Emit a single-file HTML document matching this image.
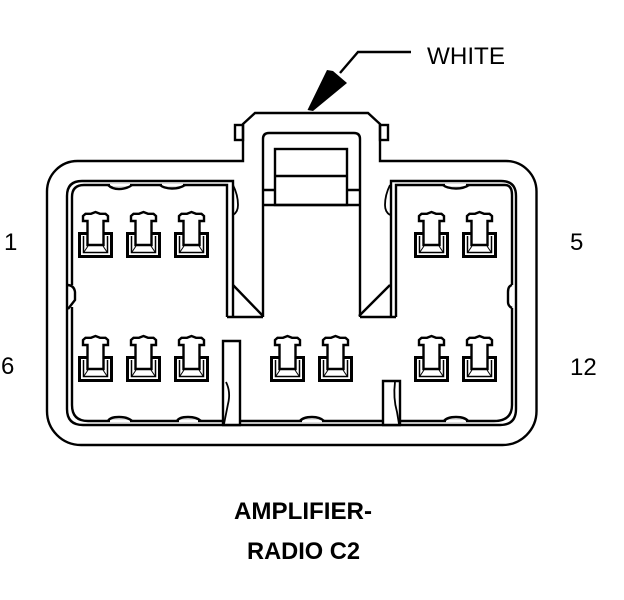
<!DOCTYPE html>
<html><head><meta charset="utf-8"><style>
html,body{margin:0;padding:0;background:#fff}
svg{display:block}
text{font-family:"Liberation Sans",sans-serif;fill:#000}
</style></head><body>
<svg width="624" height="600" viewBox="0 0 624 600" xmlns="http://www.w3.org/2000/svg">
<defs>
<g id="t" fill="none" stroke="#000">
<rect x="79.500" y="233.500" width="32" height="23" stroke-width="3"/>
<path d="M83.500 236V252.500H107.500V236" stroke-width="1.500"/>
<path d="M88 246 84 252M103 246 107 252" stroke-width="1"/>
<path d="M87.500 245H103.500V221H108V216L105.500 213.800H100L95.500 212 91 213.800H85.500L83 216V221H87.500V245Z" fill="#fff" stroke-width="2.400"/>
</g>
</defs>
<g fill="none" stroke="#000" stroke-width="2.400">
<!-- outer shell -->
<path d="M243 161V124L255 113H368L380 124V161H506A30.500 30.500 0 0 1 536.500 191.500V411A34 34 0 0 1 502.500 445H81A34 34 0 0 1 47 411V191.500A30.500 30.500 0 0 1 77.500 161H243Z"/>
<rect x="235" y="125" width="8" height="15"/>
<rect x="380" y="125" width="8" height="15"/>
<!-- tower inner -->
<path d="M263 317V139Q263 133 269 133H354Q360 133 360 139V317"/>
<rect x="275" y="149" width="72" height="56"/>
<path d="M275 176H347M264 205H359M264 190H275M347 190H359"/>
<!-- left cavity -->
<path d="M227 317H263M233 285 263 316"/>
<path d="M227 317V185H84Q72 185 72 197V285M72 307V405Q72 421 88 421H223"/>
<path d="M233 317V181H82Q67 181 67 196V409Q67 425 83 425H500Q516 425 516 409V196Q516 181 501 181H391V317"/>
<path d="M67 285Q74 285 75 292V300L68 309"/>
<!-- right cavity -->
<path d="M360 317H396M390 285 359 316"/>
<path d="M396 317V185H505Q512 185 512 195V285M512 308V405Q512 421 494 421H400"/>
<path d="M512 285Q508 286 508 292V302Q508 306 512 308"/>
<path d="M240 421H383"/>
</g>
<!-- gaps for bumps -->
<g stroke="#fff" stroke-width="2.600" fill="none">
<path d="M110 185H130M162 185H183M445 185H466M110 421H130M179 421H198M302 421H322M446 421H466"/>
</g>
<g fill="none" stroke="#000" stroke-width="2.400">
<!-- bumps top -->
<path d="M108 185Q112 189 119 189Q127 189 132 185M160 185Q164 188.500 172 188.500Q180 188.500 185 185M443 185Q447 188.500 456 188.500Q464 188.500 469 185"/>
<!-- bumps bottom -->
<path d="M108 421Q110 417 119 417Q128 417 132 421M177 421Q179 417 188 417Q197 417 201 421M300 421Q303 417 312 417Q320 417 324 421M444 421Q447 417 456 417Q465 417 468 421"/>
<!-- posts -->
<path d="M223 425V341H240V425" fill="#fff"/>
<path d="M383 425V381H400V425" fill="#fff"/>
<path d="M222 425H241M382 425H401"/>
<path d="M224 424 228 404Q231 392 226 382" stroke-width="1.800"/>
<path d="M395 382Q393 398 397 412L399 424" stroke-width="1.800"/>
<path d="M233 185Q238 195 238 205Q238 212 233 215" stroke-width="1.800"/>
<path d="M390 185Q385 195 385 205Q385 212 390 215" stroke-width="1.800"/>
</g>
<!-- leader + arrowhead -->
<path d="M411 52H358L340 73" fill="none" stroke="#000" stroke-width="2.400"/>
<path d="M307.500 110 327 70 333 71 347 83 313 111Z" fill="#000"/>
<!-- terminals -->
<use href="#t"/>
<use href="#t" x="48"/>
<use href="#t" x="96"/>
<use href="#t" x="336"/>
<use href="#t" x="384"/>
<use href="#t" y="124"/>
<use href="#t" x="48" y="124"/>
<use href="#t" x="96" y="124"/>
<use href="#t" x="192" y="124"/>
<use href="#t" x="240" y="124"/>
<use href="#t" x="336" y="124"/>
<use href="#t" x="384" y="124"/>
<!-- labels -->
<text x="427" y="64" font-size="24" textLength="78" lengthAdjust="spacingAndGlyphs">WHITE</text>
<text x="4" y="250" font-size="24">1</text>
<text x="1" y="374" font-size="24">6</text>
<text x="570" y="250" font-size="24">5</text>
<text x="570" y="375" font-size="24">12</text>
<text x="234" y="519" font-size="24" font-weight="bold" textLength="138" lengthAdjust="spacingAndGlyphs">AMPLIFIER-</text>
<text x="247" y="559" font-size="24" font-weight="bold" textLength="113" lengthAdjust="spacingAndGlyphs">RADIO C2</text>
</svg>
</body></html>
